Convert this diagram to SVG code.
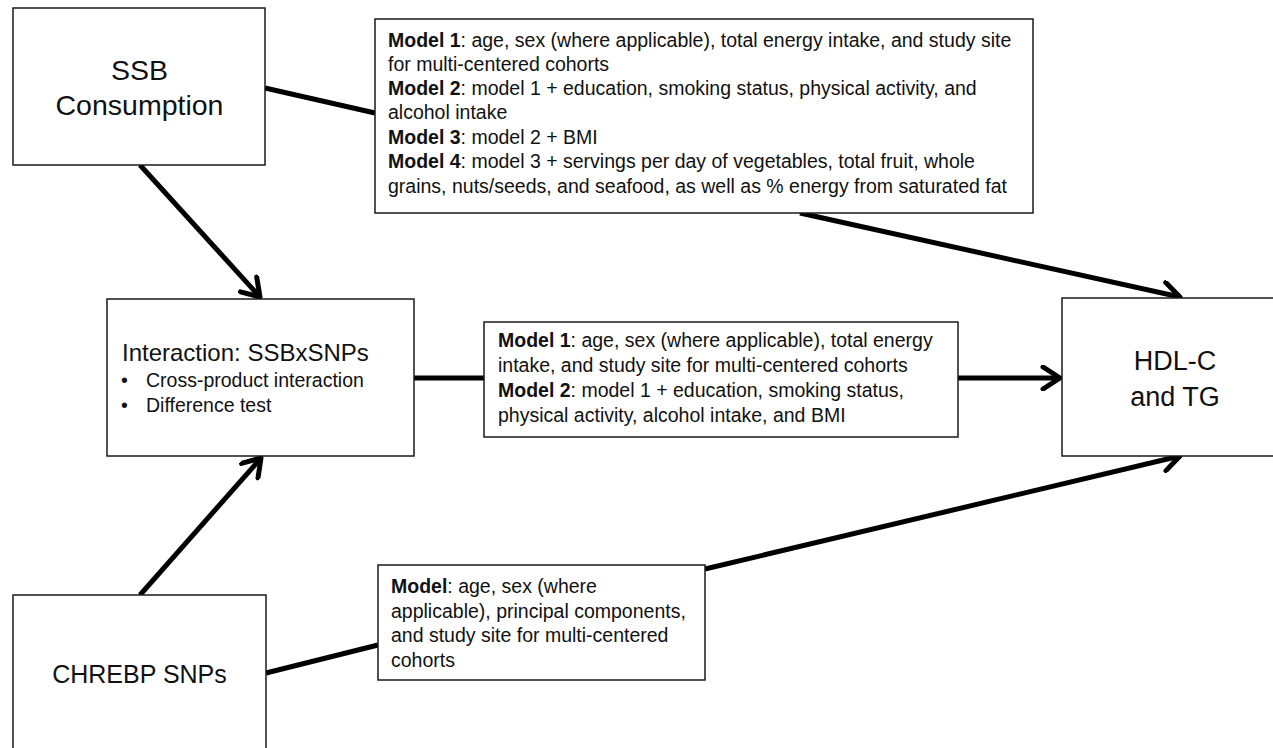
<svg xmlns="http://www.w3.org/2000/svg" width="1273" height="748" viewBox="0 0 1273 748">
<defs>
<style>
.box{fill:#fff;stroke:#1a1a1a;stroke-width:1.5}
.big{font-family:"Liberation Sans",Arial,sans-serif;fill:#111;text-anchor:middle}
.sm{font-family:"Liberation Sans",Arial,sans-serif;font-size:19.5px;fill:#111}
.b{font-weight:bold}
.conn line{stroke:#000;stroke-width:5;fill:none}
</style>
<marker id="arr" viewBox="0 0 26 26" markerUnits="userSpaceOnUse" markerWidth="26" markerHeight="26" refX="22" refY="13" orient="auto">
<path d="M5,2 L22,13 L5,24" fill="none" stroke="#000" stroke-width="5" stroke-linecap="round" stroke-linejoin="round"/>
</marker>
</defs>
<rect width="1273" height="748" fill="#fff"/>

<g class="conn" id="connectors">
<line x1="265" y1="88" x2="375" y2="113"/>
<line x1="800" y1="213" x2="1180" y2="297" marker-end="url(#arr)"/>
<line x1="140" y1="165" x2="260" y2="297" marker-end="url(#arr)"/>
<line x1="140" y1="595" x2="261" y2="458" marker-end="url(#arr)"/>
<line x1="414" y1="378" x2="484" y2="378"/>
<line x1="958" y1="378" x2="1060" y2="378" marker-end="url(#arr)"/>
<line x1="266" y1="673" x2="378" y2="645"/>
<line x1="705" y1="569" x2="1180" y2="456" marker-end="url(#arr)"/>
</g>

<g id="ssb">
<rect class="box" x="13" y="8" width="252" height="157"/>
<text class="big" x="139.5" y="80" font-size="28.5">SSB</text>
<text class="big" x="139.5" y="115" font-size="28.5">Consumption</text>
</g>

<g id="model-top">
<rect class="box" x="375" y="19" width="658" height="194"/>
<text class="sm" x="388" y="47"><tspan class="b">Model 1</tspan>: age, sex (where applicable), total energy intake, and study site</text>
<text class="sm" x="388" y="71">for multi-centered cohorts</text>
<text class="sm" x="388" y="95"><tspan class="b">Model 2</tspan>: model 1 + education, smoking status, physical activity, and</text>
<text class="sm" x="388" y="119">alcohol intake</text>
<text class="sm" x="388" y="144"><tspan class="b">Model 3</tspan>: model 2 + BMI</text>
<text class="sm" x="388" y="168"><tspan class="b">Model 4</tspan>: model 3 + servings per day of vegetables, total fruit, whole</text>
<text class="sm" x="388" y="193">grains, nuts/seeds, and seafood, as well as % energy from saturated fat</text>
</g>

<g id="interaction">
<rect class="box" x="107" y="299" width="307" height="157"/>
<text x="122" y="361" font-family="Liberation Sans, Arial, sans-serif" font-size="24" fill="#111">Interaction: SSBxSNPs</text>
<text class="sm" x="121" y="387">•</text>
<text class="sm" x="146" y="387">Cross-product interaction</text>
<text class="sm" x="121" y="412">•</text>
<text class="sm" x="146" y="412">Difference test</text>
</g>

<g id="model-mid">
<rect class="box" x="484" y="322" width="474" height="115"/>
<text class="sm" x="498" y="347"><tspan class="b">Model 1</tspan>: age, sex (where applicable), total energy</text>
<text class="sm" x="498" y="372">intake, and study site for multi-centered cohorts</text>
<text class="sm" x="498" y="397"><tspan class="b">Model 2</tspan>: model 1 + education, smoking status,</text>
<text class="sm" x="498" y="422">physical activity, alcohol intake, and BMI</text>
</g>

<g id="hdl">
<rect class="box" x="1062" y="298" width="230" height="158"/>
<text class="big" x="1175" y="370" font-size="27">HDL-C</text>
<text class="big" x="1175" y="406" font-size="27">and TG</text>
</g>

<g id="chrebp">
<rect class="box" x="13" y="595" width="253" height="170"/>
<text class="big" x="139.5" y="683" font-size="25">CHREBP SNPs</text>
</g>

<g id="model-low">
<rect class="box" x="378" y="565" width="327" height="115"/>
<text class="sm" x="391" y="593"><tspan class="b">Model</tspan>: age, sex (where</text>
<text class="sm" x="391" y="617.5">applicable), principal components,</text>
<text class="sm" x="391" y="642">and study site for multi-centered</text>
<text class="sm" x="391" y="666.5">cohorts</text>
</g>
</svg>
